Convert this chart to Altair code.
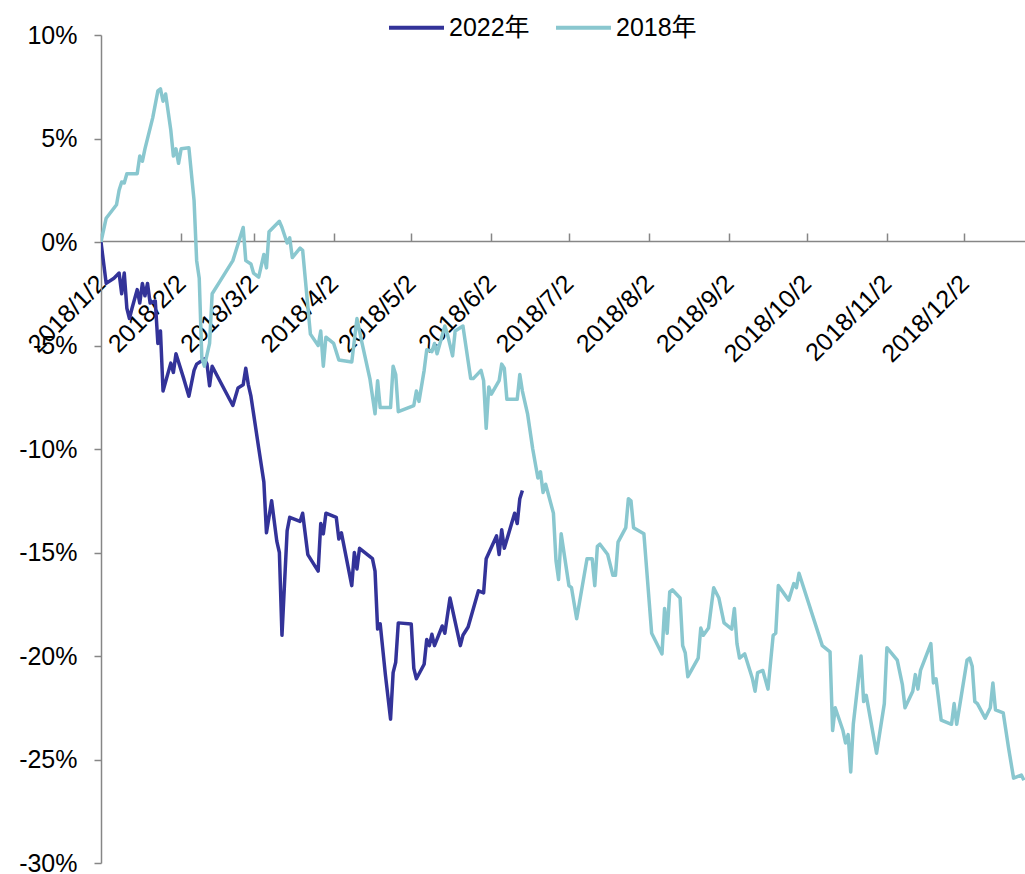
import altair as alt
import pandas as pd

# ---- data -------------------------------------------------------------
# x: days after 2018/1/2 (the chart uses a 2018 calendar axis), y: cumulative return in %
days_2018 = [0, 2, 6, 7, 8, 9, 10, 14, 15, 16, 17, 20, 22, 23, 24, 25, 27, 28, 29, 30,
             31, 34, 36, 37, 38, 39, 40, 42, 43, 46, 51, 55, 56, 58, 59, 61, 63, 64, 65, 69,
             70, 72, 73, 74, 77, 78, 81, 84, 85, 86, 87, 90, 92, 97, 99, 101, 104, 106, 107, 108,
             112, 113, 114, 115, 121, 122, 123, 125, 126, 128, 129, 130, 133, 134, 136, 137, 140, 141, 143, 144,
             147, 148, 149, 150, 151, 154, 155, 156, 157, 161, 162, 163, 165, 167, 169, 170, 171, 172, 175, 176,
             177, 178, 181, 182, 184, 188, 190, 191, 192, 193, 196, 198, 199, 200, 203, 204, 205, 206, 210, 213,
             217, 218, 219, 220, 221, 224, 225, 226, 227, 231, 232, 233, 235, 237, 239, 241, 244, 245, 246, 247,
             249, 252, 253, 254, 256, 258, 260, 261, 262, 266, 268, 269, 270, 279, 282, 283, 284, 287, 288, 289,
             290, 291, 294, 295, 296, 300, 303, 304, 308, 310, 311, 314, 315, 316, 317, 321, 322, 323, 325, 329,
             330, 331, 335, 336, 337, 338, 339, 342, 344, 345, 346, 349, 351, 353, 356, 357]
vals_2018 = [0, 1.15, 1.8, 2.5, 2.9, 2.85, 3.3, 3.3, 4.15, 3.9, 4.5, 6.0, 7.3, 7.4, 6.8, 7.15, 5.4, 4.15, 4.5, 3.8,
             4.5, 4.55, 2.0, -0.9, -1.75, -5.6, -6.0, -4.9, -2.5, -1.9, -0.9, 0.7, -0.9, -1.06, -1.5, -1.7, -0.6, -1.25, 0.5, 1.0,
             0.7, -0.05, 0.2, -0.75, -0.3, -0.4, -4.45, -5.0, -4.3, -6.0, -4.6, -4.9, -5.7, -5.8, -3.7, -4.9, -6.6, -8.3, -6.7, -8.0,
             -8.0, -6.0, -6.4, -8.2, -7.9, -7.2, -7.7, -6.2, -5.2, -5.3, -4.9, -5.4, -4.06, -4.45, -5.5, -4.3, -4.06, -4.9, -6.6, -6.6,
             -6.2, -6.7, -9.0, -7.0, -7.35, -6.7, -5.9, -6.1, -7.6, -7.6, -6.4, -7.2, -8.3, -10.0, -11.4, -11.1, -12.1, -11.7, -13.1, -15.4,
             -16.3, -14.1, -16.6, -16.7, -18.2, -15.3, -15.3, -16.6, -14.7, -14.6, -15.1, -16.1, -16.1, -14.5, -13.8, -12.4, -12.5, -13.8, -14.1, -18.9,
             -19.9, -17.7, -18.9, -16.9, -16.8, -17.2, -19.5, -19.85, -21.0, -20.1, -18.65, -19.0, -18.65, -16.7, -17.2, -18.4, -18.7, -17.7, -19.4, -20.1,
             -19.9, -21.1, -21.7, -20.8, -20.7, -21.6, -19.0, -18.9, -16.6, -17.3, -16.5, -16.7, -16.0, -19.5, -19.8, -23.6, -22.5, -23.6, -24.2, -23.8,
             -25.6, -23.3, -20.0, -22.2, -21.9, -24.7, -22.3, -19.6, -20.2, -21.4, -22.5, -21.7, -20.9, -21.6, -20.7, -19.4, -21.3, -21.1, -23.1, -23.3,
             -22.3, -23.3, -20.2, -20.1, -20.5, -22.2, -22.3, -23.0, -22.5, -21.3, -22.6, -22.75, -24.4, -25.9, -25.75, -26.0]

days_2022 = [0, 2, 5, 7, 8, 9, 10, 11, 12, 14, 15, 16, 17, 18, 19, 21, 22, 23, 24, 27,
             28, 29, 32, 34, 36, 37, 40, 41, 42, 43, 51, 53, 55, 56, 57, 58, 61, 63, 64, 66,
             68, 69, 70, 72, 73, 77, 78, 80, 84, 85, 86, 87, 91, 92, 93, 97, 98, 99, 100, 105,
             106, 107, 108, 110, 112, 113, 114, 115, 120, 121, 122, 125, 126, 127, 128, 129, 132, 133, 135, 139,
             140, 142, 146, 148, 149, 153, 154, 155, 156, 160, 161, 162, 163]
vals_2022 = [0, -2.0, -1.75, -1.5, -2.5, -1.5, -3.2, -3.7, -3.2, -2.3, -2.95, -2.0, -2.6, -2.0, -2.95, -2.85, -4.9, -4.3, -7.2, -5.85,
             -6.3, -5.4, -6.6, -7.45, -6.2, -5.9, -5.65, -5.9, -6.95, -6.0, -7.9, -7.05, -6.9, -6.1, -6.9, -7.45, -9.95, -11.6, -14.05, -12.5,
             -14.45, -15.0, -19.0, -13.95, -13.3, -13.5, -13.1, -15.1, -15.9, -13.6, -14.1, -13.1, -13.3, -14.35, -14.05, -16.6, -15.0, -15.8, -14.8, -15.3,
             -15.9, -18.7, -18.45, -20.9, -23.05, -20.8, -20.3, -18.4, -18.45, -20.6, -21.1, -20.4, -19.2, -19.5, -18.95, -19.5, -18.55, -18.9, -17.2, -19.5,
             -19.0, -18.6, -16.85, -16.95, -15.3, -14.2, -15.1, -13.9, -14.8, -13.1, -13.6, -12.4, -12.0]

series_names = ["2022年", "2018年"]
series_colors = ["#333399", "#89C7CF"]
y_ticks = [-30, -25, -20, -15, -10, -5, 0, 5, 10]
x_tick_months = [1, 2, 3, 4, 5, 6, 7, 8, 9, 10, 11, 12]

assert len(days_2018) == len(vals_2018)
assert len(days_2022) == len(vals_2022)

start = pd.Timestamp("2018-01-02")


def to_dates(days):
    return [(start + pd.Timedelta(days=d)).strftime("%Y-%m-%dT00:00:00") for d in days]


df = pd.DataFrame({
    "date": to_dates(days_2022) + to_dates(days_2018),
    "value": vals_2022 + vals_2018,
    "series": [series_names[0]] * len(days_2022) + [series_names[1]] * len(days_2018),
})

FONT = "Liberation Sans, Arial, Noto Sans CJK SC"
GREY = "#868686"

x_enc = alt.X(
    "date:T",
    scale=alt.Scale(domain=[alt.DateTime(year=2018, month=1, date=2),
                            alt.DateTime(year=2018, month=12, date=25, hours=10)]),
    axis=alt.Axis(
        orient="top", offset=-206, title=None, grid=False,
        values=[alt.DateTime(year=2018, month=m, date=2) for m in x_tick_months],
        format="%Y/%-m/%-d", labelAngle=-45, labelAlign="right", labelBaseline="middle",
        labelPadding=-46, tickSize=8, tickWidth=1.5, domainWidth=1.5,
        domainColor=GREY, tickColor=GREY, labelColor="black", labelFontSize=25,
        labelFont=FONT, labelOverlap=False, labelFlush=False, labelBound=False,
    ),
)
y_enc = alt.Y(
    "value:Q",
    scale=alt.Scale(domain=[-30, 10], nice=False, zero=False),
    axis=alt.Axis(
        title=None, grid=False, values=y_ticks, labelExpr="datum.value + '%'",
        tickSize=7, tickWidth=1.5, domainWidth=1.5, labelPadding=17,
        domainColor=GREY, tickColor=GREY, labelColor="black", labelFontSize=25, labelFont=FONT,
    ),
)
color_enc = alt.Color(
    "series:N",
    scale=alt.Scale(domain=series_names, range=series_colors),
    legend=alt.Legend(
        title=None, orient="none", legendX=286, legendY=-37, direction="horizontal",
        symbolType="stroke", symbolSize=3025, symbolStrokeWidth=4, labelFontSize=25,
        labelFont=FONT, labelColor="black", columnPadding=18, labelOffset=3,
    ),
)

base = alt.Chart(df).mark_line(strokeWidth=3.5, strokeJoin="round", clip=True).encode(
    x=x_enc, y=y_enc, color=color_enc)
layer_2022 = base.transform_filter(alt.datum.series == series_names[0])
layer_2018 = base.transform_filter(alt.datum.series == series_names[1])

chart = alt.layer(layer_2022, layer_2018).properties(
    width=924, height=828,
    autosize=alt.AutoSizeParams(type="none"),
    padding={"left": 101, "top": 35, "right": 0, "bottom": 11},
).configure(font=FONT).configure_view(strokeWidth=0)

chart.save("out.html", embed_options={"renderer": "svg", "actions": False})
